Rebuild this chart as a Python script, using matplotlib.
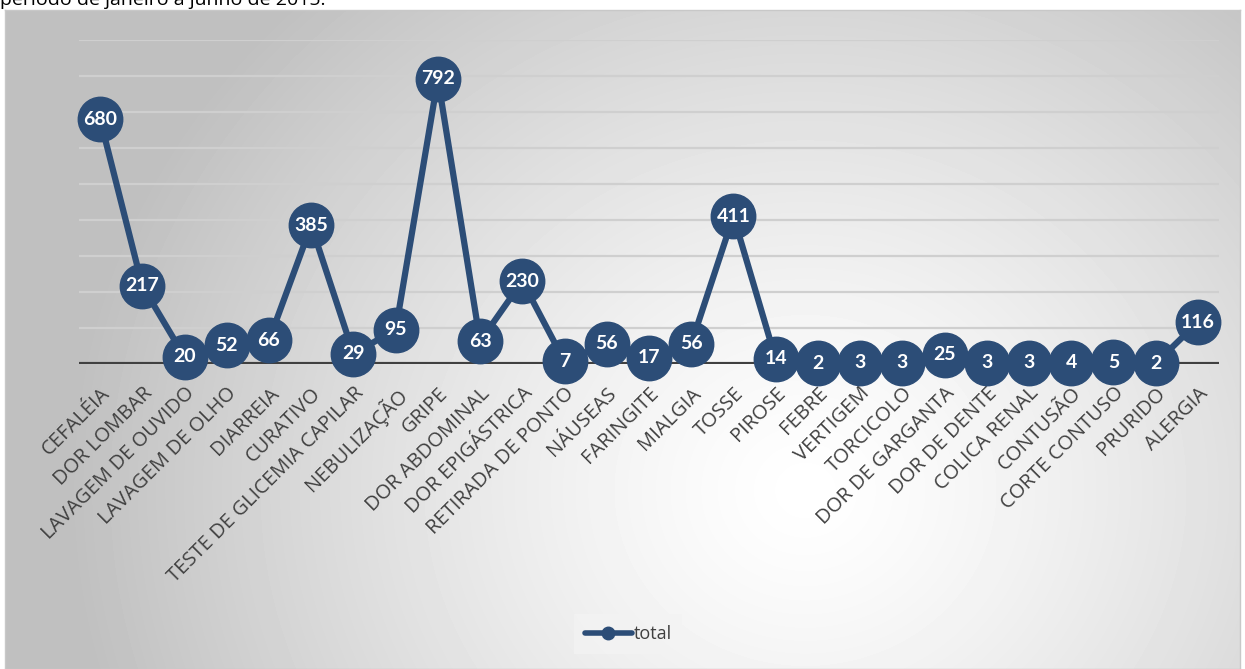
import matplotlib.pyplot as plt
import numpy as np
from matplotlib.lines import Line2D

categories = ["CEFALÉIA", "DOR LOMBAR", "LAVAGEM DE OUVIDO", "LAVAGEM DE OLHO",
              "DIARREIA", "CURATIVO", "TESTE DE GLICEMIA CAPILAR", "NEBULIZAÇÃO",
              "GRIPE", "DOR ABDOMINAL", "DOR EPIGÁSTRICA", "RETIRADA DE PONTO",
              "NÁUSEAS", "FARINGITE", "MIALGIA", "TOSSE", "PIROSE", "FEBRE",
              "VERTIGEM", "TORCICOLO", "DOR DE GARGANTA", "DOR DE DENTE",
              "COLICA RENAL", "CONTUSÃO", "CORTE CONTUSO", "PRURIDO", "ALERGIA"]
total = [680, 217, 20, 52, 66, 385, 29, 95, 792, 63, 230, 7, 56, 17, 56,
         411, 14, 2, 3, 3, 25, 3, 3, 4, 5, 2, 116]

blue = "#2c4d77"
W, H = 1245, 669

fig = plt.figure(figsize=(W / 100, H / 100), dpi=100)
fig.patch.set_facecolor("white")

# title line, cut off at the top of the picture
fig.text(0.0, 1 - 5 / H, "período de janeiro a junho de 2015.", fontsize=14,
         family="Open Sans", color="black", va="baseline", ha="left")

# radial gradient background of the chart area
bg = fig.add_axes([5 / W, 0, (W - 10) / W, 659 / H])
yy, xx = np.mgrid[0:659, 0:1235]
cx, cy = 800, 480
d = np.sqrt(((xx - cx) / 740) ** 2 + ((yy - cy) / 680) ** 2)
shade = 1 - 0.25 * np.clip(d, 0, 1.0) ** 1.3
bg.imshow(shade, cmap="gray", vmin=0, vmax=1, aspect="auto",
          extent=[0, 1235, 659, 0], interpolation="bilinear")
bg.set_xticks([])
bg.set_yticks([])
for s in bg.spines.values():
    s.set_color("#c8c8c8")
    s.set_linewidth(1)

ax = fig.add_axes([79 / W, (H - 364) / H, (1219 - 79) / W, (364 - 40) / H])
ax.patch.set_alpha(0)
x = np.arange(len(categories))
ax.set_xlim(-0.5, len(categories) - 0.5)
ax.set_ylim(0, 900)
ax.set_yticks([])
for g in range(100, 901, 100):
    ax.axhline(g, color="#cfcfcf", lw=1.6, zorder=1)
ax.axhline(0, color="#404040", lw=3, zorder=2)
for s in ax.spines.values():
    s.set_visible(False)

ax.plot(x, total, color=blue, lw=4.5, marker="o", ms=32, zorder=3,
        clip_on=False, label="total")
for i, v in enumerate(total):
    ax.text(i, v, str(v), ha="center", va="center", color="white",
            fontsize=14, fontweight="bold", family="Lato", zorder=4)

ax.set_xticks(x)
ax.set_xticklabels(categories, rotation=45, ha="right", rotation_mode="anchor",
                   fontsize=14.5, family="Open Sans", color="#404040")
ax.tick_params(axis="x", length=0, pad=14)

handle = Line2D([], [], color=blue, lw=4, marker="o", ms=9,
                solid_capstyle="round")
leg = fig.legend([handle], ["total"], loc="center", bbox_to_anchor=(628 / W, 1 - 634 / H),
                 frameon=True, fancybox=False, handlelength=2.6, handletextpad=0.1,
                 borderpad=0.6, prop={"family": "Open Sans", "size": 13})
leg.get_frame().set_facecolor("#f3f3f3")
leg.get_frame().set_edgecolor("none")
leg.get_texts()[0].set_color("#404040")

fig.savefig("out.png", dpi=100)
